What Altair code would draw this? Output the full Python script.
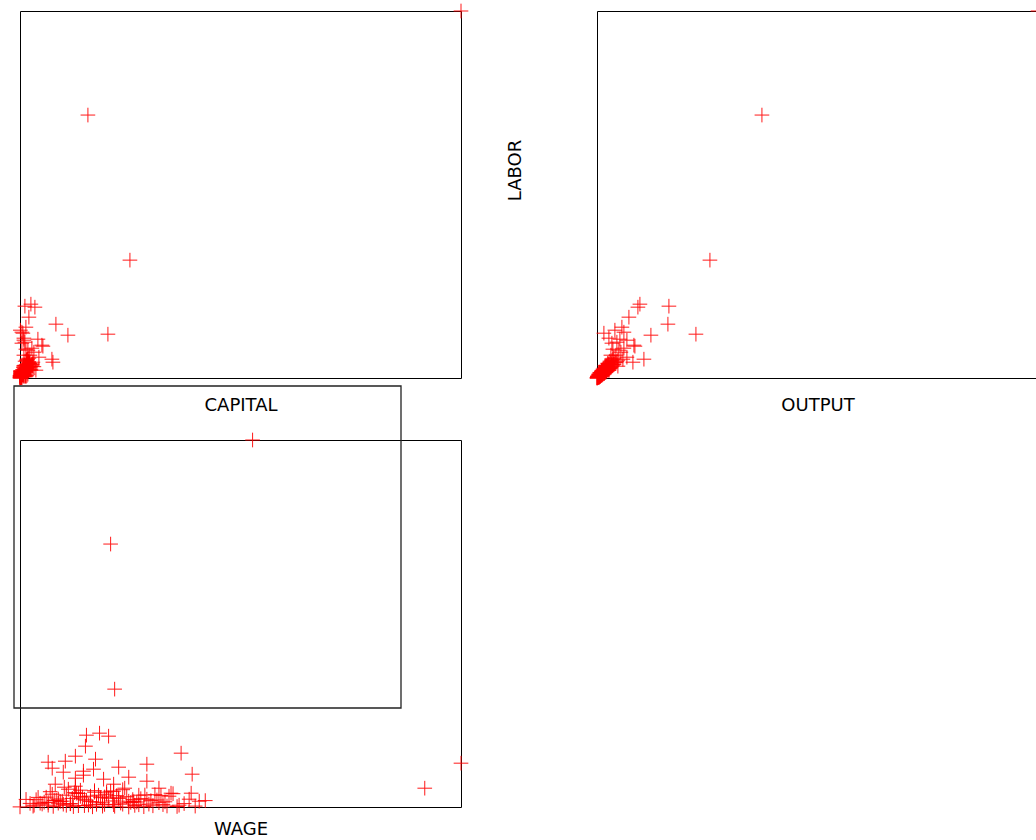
import altair as alt
import pandas as pd

# Values (axes carry no labels, so units are nominal)
LABOR = [3670, 2630, 1180, 440, 540, 430, 720, 740, 710, 610, 190, 330, 460, 390, 480,
         450, 510, 380, 320, 210, 160, 360, 290, 280, 230, 230, 140, 60, 400, 260, 350, 190, 120, 80, 300,
         3, 10, 20, 30, 15, 40, 50, 25, 60, 5,
         70, 35, 80, 10, 90, 45, 100, 20, 110, 55,
         120, 8, 130, 65, 140, 30, 150, 75, 160, 12,
         170, 40, 85, 22, 105, 50, 125, 6, 95, 38,
         115, 60, 18, 135, 70, 28, 155, 42, 80, 4,
         180, 52, 100, 26, 120, 68, 190, 32, 90, 14,
         145, 48, 78, 9, 110, 58, 165, 24, 88, 36,
         130, 62, 11, 108, 44, 200, 72, 20, 122, 56,
         92, 7, 150, 34, 76, 16, 118, 46, 175, 29,
         66, 98, 2, 138, 54, 82, 31, 102, 19, 140]

CAPITAL = [441, 68, 110, 88, 36, 48, 5, 11, 15, 9, 32, 22, 2, 18, 0.5,
           3, 6, 4, 23, 19, 33, 5, 6, 8, 4, 10, 12, 3, 4, 14, 2, 7, 9, 16, 12,
           0.2, 1.5, 4, 0.3, 6, 2.5, 0.8, 7, 3.2, 0.1,
           5, 1, 9, 0.6, 11, 2.8, 6.5, 0.4, 8, 3,
           4, 2.2, 12, 1, 7.5, 3.8, 9.5, 0.7, 13, 0.3,
           5.2, 8, 2.6, 1.4, 10.5, 0.9, 4, 0.8, 6.2, 1.6,
           14, 5.4, 0.2, 7, 3.4, 1.1, 8.8, 0.5, 11, 1.5,
           6.8, 2.1, 4.3, 5.6, 12.5, 0.6, 7.8, 2.7, 9.9, 0.9,
           10, 3.1, 5.7, 0.4, 6.4, 2.3, 8.8, 0.1, 3.9, 1.2,
           4.9, 7.2, 0.7, 3.6, 2.6, 9, 1.4, 4.2, 5.6, 0.8,
           6, 1, 8.1, 3.3, 4.6, 0.5, 10.7, 1.9, 7, 0.6,
           2.8, 5.1, 0.3, 6.9, 1.3, 3.5, 2.5, 8.2, 0.9, 12.4]

OUTPUT = [441, 165, 113, 99, 71, 54, 72, 43, 41, 32, 47, 37, 27, 23, 18,
          7, 25, 30, 38, 30, 36, 20, 16, 22, 14, 19, 17, 8, 12, 24, 15, 26, 21, 12, 27,
          0.3, 2.5, 1, 4.5, 3, 6, 3, 4, 8.5, 0.2,
          10, 2, 12, 1.5, 6, 7, 13, 3.5, 9, 4,
          15, 0.8, 9, 8, 17, 5, 11, 5.5, 18, 2,
          13, 3, 11, 1, 14, 7.5, 8, 0.6, 12, 5.5,
          8.5, 9, 3, 12, 5, 4, 19, 2, 10, 0.4,
          21, 6, 7, 2, 10, 4.5, 16, 3, 11, 1,
          11, 7, 5, 0.7, 13, 3, 20, 3.6, 6.5, 2,
          16, 4.5, 1.8, 11, 6, 17, 9, 1, 9.5, 7,
          8, 1.3, 14, 5, 9.5, 0.6, 10, 4, 15, 3.5,
          5.5, 12, 0.1, 15, 3.8, 7, 2.4, 8.5, 2.6, 12]

WAGE = [233, 92, 96, 440, 162, 128, 68, 81, 90, 67, 404, 173, 47, 34, 77,
        30, 57, 75, 65, 57, 95, 65, 57, 85, 37, 95, 152, 180, 100, 128, 45, 140, 120, 170, 110,
        2, 15, 30, 45, 60, 22, 78, 95, 110, 125,
        38, 52, 66, 84, 100, 140, 28, 160, 72, 115,
        48, 35, 88, 132, 58, 104, 76, 18, 92, 148,
        62, 40, 122, 70, 108, 26, 136, 55, 82, 12,
        98, 44, 116, 154, 68, 86, 32, 102, 128, 74,
        50, 118, 64, 144, 80, 36, 106, 24, 90, 134,
        56, 112, 8, 96, 150, 42, 76, 120, 54, 165,
        34, 94, 176, 62, 84, 46, 138, 16, 126, 72,
        100, 158, 88, 52, 114, 66, 142, 30, 104, 78,
        186, 20, 110, 60, 146, 40, 130, 86, 48, 172]

df = pd.DataFrame({"LABOR": LABOR, "CAPITAL": CAPITAL, "OUTPUT": OUTPUT, "WAGE": WAGE})

CROSS = "M-1,0L1,0M0,-1L0,1"
FONT = "DejaVu Sans"
W, H = 441, 367


def x_enc(col, pad):
    return alt.X(
        f"{col}:Q",
        scale=alt.Scale(zero=False, nice=False),
        axis=alt.Axis(title=col, labels=False, ticks=False, domain=False, grid=False,
                      titlePadding=pad, titleFontSize=18, titleFontWeight="normal",
                      titleFont=FONT, titleColor="black"),
    )


def points(col, yaxis, pad=18):
    return alt.Chart(df).mark_point(
        shape=CROSS, size=215, filled=False, stroke="#ff0000", strokeWidth=1, opacity=0.9
    ).encode(
        x=x_enc(col, pad),
        y=alt.Y("LABOR:Q", scale=alt.Scale(zero=False, nice=False), axis=yaxis),
    ).properties(width=W, height=H)


labor_axis = alt.Axis(title="LABOR", labels=False, ticks=False, domain=False, grid=False,
                      titleFontSize=18, titleFontWeight="normal", titleFont=FONT,
                      titleColor="black", titleAngle=270, titleAlign="center",
                      titleBaseline="middle", titleX=-82, titleY=159)

chart_cap = points("CAPITAL", None)
chart_out = points("OUTPUT", labor_axis)

frame = alt.Chart(pd.DataFrame({"k": [0]})).mark_rect(
    fillOpacity=0, stroke="#222222", strokeWidth=1.3
).encode(x=alt.value(-6), x2=alt.value(381), y=alt.value(-54), y2=alt.value(268))

chart_wage = alt.layer(points("WAGE", None, pad=13), frame).properties(width=W, height=H)

chart = alt.concat(
    chart_cap, chart_out, chart_wage,
    columns=2, spacing={"row": 62, "column": 136}, bounds="flush",
).properties(
    padding={"left": 10, "top": 1, "right": -12, "bottom": 5}
).configure_view(stroke="black", strokeWidth=1)

chart.save("out.html", embed_options={"renderer": "svg", "actions": False})
